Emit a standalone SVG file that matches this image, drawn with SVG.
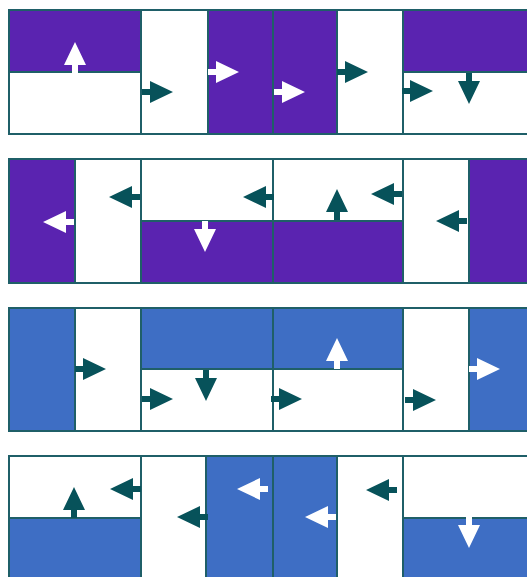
<svg xmlns="http://www.w3.org/2000/svg" xmlns:xlink="http://www.w3.org/1999/xlink" width="527" height="577" viewBox="0 0 527 577">
<style>
.sq{fill:#ffffff;stroke:#1f5f68;stroke-width:2}
.p{fill:#5a23b0;stroke:#1f5f68;stroke-width:2}
.b{fill:#3e6ec4;stroke:#1f5f68;stroke-width:2}
.d{fill:#07525a}
.w{fill:#ffffff}
</style>
<defs>
<path id="arr" d="M0,0 L-23,-11 L-23,-3 L-31,-3 L-31,3 L-23,3 L-23,11 Z"/>
</defs>
<rect width="527" height="577" fill="#ffffff"/>
<!-- Row 1 -->
<g id="r1c1"><rect class="sq" x="9" y="10" width="132" height="124"/><rect class="p" x="9" y="10" width="132" height="62"/></g>
<g id="r1c2"><rect class="sq" x="141" y="10" width="132" height="124"/><rect class="p" x="208" y="10" width="65" height="124"/></g>
<g id="r1c3"><rect class="sq" x="273" y="10" width="130" height="124"/><rect class="p" x="273" y="10" width="64" height="124"/></g>
<g id="r1c4"><rect class="sq" x="403" y="10" width="132" height="124"/><rect class="p" x="403" y="10" width="132" height="62"/></g>
<!-- Row 2 -->
<g id="r2c1"><rect class="sq" x="9" y="159" width="132" height="124"/><rect class="p" x="9" y="159" width="66" height="124"/></g>
<g id="r2c2"><rect class="sq" x="141" y="159" width="132" height="124"/><rect class="p" x="141" y="221" width="132" height="62"/></g>
<g id="r2c3"><rect class="sq" x="273" y="159" width="130" height="124"/><rect class="p" x="273" y="221" width="130" height="62"/></g>
<g id="r2c4"><rect class="sq" x="403" y="159" width="132" height="124"/><rect class="p" x="469" y="159" width="66" height="124"/></g>
<!-- Row 3 -->
<g id="r3c1"><rect class="sq" x="9" y="308" width="132" height="123"/><rect class="b" x="9" y="308" width="66" height="123"/></g>
<g id="r3c2"><rect class="sq" x="141" y="308" width="132" height="123"/><rect class="b" x="141" y="308" width="132" height="61"/></g>
<g id="r3c3"><rect class="sq" x="273" y="308" width="130" height="123"/><rect class="b" x="273" y="308" width="130" height="61"/></g>
<g id="r3c4"><rect class="sq" x="403" y="308" width="132" height="123"/><rect class="b" x="469" y="308" width="66" height="123"/></g>
<!-- Row 4 -->
<g id="r4c1"><rect class="sq" x="9" y="456" width="132" height="130"/><rect class="b" x="9" y="518" width="132" height="68"/></g>
<g id="r4c2"><rect class="sq" x="141" y="456" width="132" height="130"/><rect class="b" x="206" y="456" width="67" height="130"/></g>
<g id="r4c3"><rect class="sq" x="273" y="456" width="130" height="130"/><rect class="b" x="273" y="456" width="64" height="130"/></g>
<g id="r4c4"><rect class="sq" x="403" y="456" width="132" height="130"/><rect class="b" x="403" y="518" width="132" height="68"/></g>
<g id="connectors">
<use xlink:href="#arr" class="w" transform="translate(75,42) rotate(-90)"/>
<use xlink:href="#arr" class="d" transform="translate(173,92)"/>
<use xlink:href="#arr" class="w" transform="translate(239,72)"/>
<use xlink:href="#arr" class="w" transform="translate(305,92)"/>
<use xlink:href="#arr" class="d" transform="translate(368,72)"/>
<use xlink:href="#arr" class="d" transform="translate(433,91)"/>
<use xlink:href="#arr" class="d" transform="translate(469,104) rotate(90)"/>
<use xlink:href="#arr" class="w" transform="translate(43,222) rotate(180)"/>
<use xlink:href="#arr" class="d" transform="translate(109,197) rotate(180)"/>
<use xlink:href="#arr" class="d" transform="translate(243,197) rotate(180)"/>
<use xlink:href="#arr" class="w" transform="translate(205,252) rotate(90)"/>
<use xlink:href="#arr" class="d" transform="translate(337,189) rotate(-90)"/>
<use xlink:href="#arr" class="d" transform="translate(371,194) rotate(180)"/>
<use xlink:href="#arr" class="d" transform="translate(436,221) rotate(180)"/>
<use xlink:href="#arr" class="d" transform="translate(106,369)"/>
<use xlink:href="#arr" class="d" transform="translate(173,399)"/>
<use xlink:href="#arr" class="d" transform="translate(206,401) rotate(90)"/>
<use xlink:href="#arr" class="w" transform="translate(337,338) rotate(-90)"/>
<use xlink:href="#arr" class="d" transform="translate(302,399)"/>
<use xlink:href="#arr" class="d" transform="translate(436,400)"/>
<use xlink:href="#arr" class="w" transform="translate(500,369)"/>
<use xlink:href="#arr" class="d" transform="translate(74,487) rotate(-90)"/>
<use xlink:href="#arr" class="d" transform="translate(110,489) rotate(180)"/>
<use xlink:href="#arr" class="d" transform="translate(177,517) rotate(180)"/>
<use xlink:href="#arr" class="w" transform="translate(237,489) rotate(180)"/>
<use xlink:href="#arr" class="w" transform="translate(305,517) rotate(180)"/>
<use xlink:href="#arr" class="d" transform="translate(366,490) rotate(180)"/>
<use xlink:href="#arr" class="w" transform="translate(469,548) rotate(90)"/>
</g>
</svg>
